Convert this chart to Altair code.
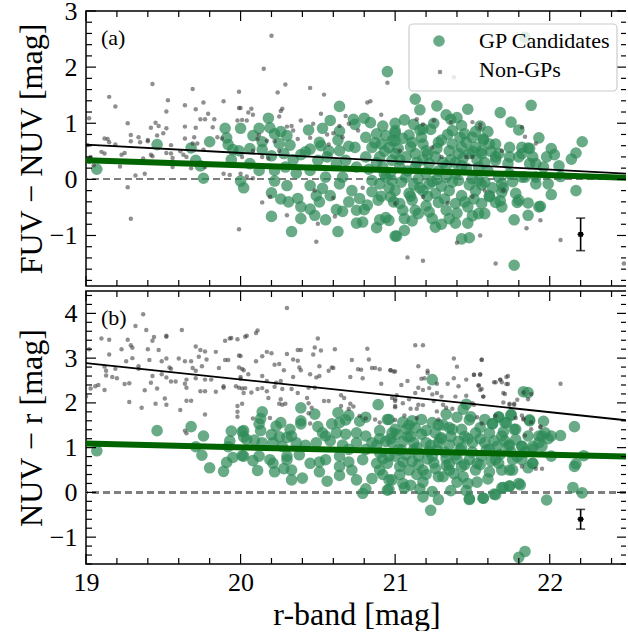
import math
import altair as alt
import pandas as pd

FONT = "Liberation Serif"
W, HA, HB = 541, 275, 273

# ---------------- data: panel (a) FUV - NUV ----------------
GP_A_R = [
    19.07, 19.46, 19.68, 19.80, 19.90, 19.91, 20.00, 19.92, 19.95, 19.94,
    19.71, 19.76, 20.00, 20.02, 19.99, 19.74, 20.95, 20.64, 20.18, 20.58,
    20.73, 20.80, 20.84, 20.74, 20.12, 20.19, 20.26, 20.30, 20.08, 20.44,
    20.53, 20.64, 20.63, 20.51, 20.52, 20.45, 20.39, 20.32, 20.25, 20.14,
    20.06, 20.20, 20.28, 20.70, 20.74, 20.81, 20.88, 20.94, 21.00, 20.85,
    20.91, 20.96, 21.00, 20.90, 20.81, 20.68, 20.62, 20.56, 20.50, 20.45,
    20.36, 20.29, 20.22, 20.12, 20.06, 20.22, 20.30, 20.45, 20.53, 20.55,
    20.64, 20.72, 20.70, 20.77, 20.85, 20.90, 20.94, 20.97, 20.89, 20.20,
    20.26, 20.31, 20.37, 20.39, 20.45, 20.49, 20.51, 20.48, 20.55, 20.39,
    20.20, 20.33, 20.63, 20.62, 20.66, 20.75, 20.80, 20.82, 20.75, 20.79,
    20.88, 20.90, 20.94, 21.00, 20.42, 20.34, 20.22, 20.14, 20.57, 20.64,
    20.75, 20.83, 20.92, 20.98, 20.98, 20.85, 20.66, 20.58, 21.13, 21.16,
    21.27, 21.47, 21.68, 21.88, 21.06, 21.36, 21.75, 21.80, 21.23, 21.16,
    21.09, 21.00, 21.37, 21.43, 21.45, 21.57, 21.65, 21.74, 21.93, 21.00,
    21.05, 21.11, 21.18, 21.28, 21.37, 21.43, 21.52, 21.61, 21.86, 21.82,
    21.96, 21.07, 21.13, 21.20, 21.26, 21.35, 21.41, 21.48, 21.56, 21.65,
    21.74, 21.03, 21.13, 21.22, 21.33, 21.43, 21.54, 20.98, 21.07, 21.15,
    21.24, 21.33, 21.41, 21.50, 21.58, 21.67, 21.76, 21.84, 21.91, 21.00,
    21.09, 21.18, 21.26, 21.35, 21.43, 21.52, 21.61, 21.69, 21.78, 21.03,
    21.11, 21.20, 21.28, 21.39, 21.47, 21.56, 21.65, 21.79, 21.86, 21.94,
    20.96, 21.06, 21.11, 21.15, 21.24, 21.35, 21.39, 21.47, 21.54, 21.58,
    21.77, 21.01, 21.06, 21.26, 21.43, 21.48, 21.77, 21.22, 21.91, 21.39,
    21.74, 22.21, 22.17, 22.14, 22.01, 22.03, 21.98, 22.06, 21.87, 21.89,
    21.87, 21.82, 21.67, 21.57, 21.50, 21.56, 21.82, 21.91, 21.99, 22.01,
    22.07, 22.17, 21.93, 21.80, 21.69, 21.86, 21.68, 21.61, 21.54, 21.69,
    21.65, 21.73, 21.80, 21.84, 20.93, 21.02, 21.10, 21.18, 21.30, 21.46,
    21.20, 21.28, 21.36, 21.44, 21.12, 21.30, 21.48, 21.05, 21.22, 21.40,
    21.33, 20.88, 20.96, 21.60, 21.70, 21.25, 21.12, 21.40, 21.55, 20.87,
    20.93, 20.97, 21.03, 21.08, 21.14, 21.17, 21.21, 21.27, 21.31, 21.34,
    21.39, 21.42, 21.46, 21.50, 21.53, 21.58, 21.62, 20.91, 20.99, 21.04,
    21.10, 21.16, 21.21, 21.27, 21.32, 21.37, 21.45, 21.51, 21.56, 21.63,
    21.13, 21.30, 21.50, 21.18, 21.33, 21.00, 20.92, 21.52, 21.60,
]
GP_A_FUV_NUV = [
    0.18, 0.62, 0.56, 0.67, 0.91, 0.74, 0.91, 0.62, 0.53, 0.35,
    0.34, 0.02, -0.03, -0.15, 0.51, 0.24, 1.92, 1.30, 1.09, 1.05,
    1.07, 1.09, 1.01, 0.98, 0.91, 0.92, 0.85, 0.78, 0.78, 0.88,
    0.91, 0.86, 0.70, 0.66, 0.60, 0.54, 0.44, 0.61, 0.64, 0.53,
    0.55, 0.42, 0.46, 0.59, 0.57, 0.75, 0.81, 0.78, 0.83, 0.57,
    0.63, 0.57, 0.46, 0.40, 0.40, 0.34, 0.28, 0.40, 0.34, 0.16,
    0.11, 0.22, 0.16, 0.16, 0.28, -0.03, -0.11, -0.11, -0.16, 0.04,
    -0.08, -0.20, -0.40, -0.34, -0.22, -0.08, 0.04, -0.31, -0.37, -0.24,
    -0.35, -0.40, -0.34, -0.49, -0.53, -0.29, -0.40, -0.64, -0.72, -0.70,
    -0.66, -0.93, -0.93, -0.54, -0.57, -0.55, -0.54, -0.46, -0.78, -0.76,
    -0.86, -0.72, -0.68, -1.01, 0.49, 0.35, 0.81, 0.67, 0.51, 0.51,
    0.22, 0.18, 0.22, 0.34, 0.69, -0.02, 0.04, -0.29, 1.43, 1.24,
    1.31, 1.25, 1.19, 1.32, 1.06, 1.07, 1.02, 0.88, 0.89, 0.88,
    0.79, 0.87, 0.87, 0.96, 0.81, 0.70, 0.63, 0.57, 0.74, 0.69,
    0.73, 0.66, 0.63, 0.66, 0.63, 0.57, 0.57, 0.63, 0.56, 0.46,
    0.22, 0.40, 0.46, 0.51, 0.40, 0.51, 0.46, 0.46, 0.46, 0.40,
    0.40, 0.22, 0.22, 0.28, 0.24, 0.24, 0.22, -0.02, 0.04, 0.01,
    -0.04, 0.04, -0.02, 0.01, -0.05, 0.04, -0.04, 0.04, -0.08, -0.20,
    -0.25, -0.20, -0.25, -0.20, -0.29, -0.20, -0.29, -0.23, -0.25, -0.43,
    -0.37, -0.47, -0.41, -0.43, -0.49, -0.43, -0.41, -0.41, -0.42, -0.48,
    -0.73, -0.70, -0.74, -0.61, -0.70, -0.70, -0.78, -0.78, -0.61, -0.61,
    -0.72, -1.01, -0.91, -0.85, -1.06, -1.04, -1.53, -0.08, 0.28, 0.10,
    0.10, 0.67, 0.47, 0.36, 0.55, 0.44, 0.40, 0.24, 0.55, 0.40,
    0.28, 0.57, 0.46, 0.72, 0.75, 0.51, 0.04, 0.04, -0.08, -0.27,
    0.05, -0.20, -0.49, -0.37, -0.49, -0.64, -0.38, -0.31, -0.02, -0.08,
    0.34, 0.28, 0.40, 2.53, 0.10, 0.55, 0.58, 0.35, 0.70, 0.66,
    0.12, 0.15, 0.35, 0.38, -0.10, -0.12, -0.10, -0.55, -0.58, -0.60,
    -0.55, 0.30, -0.15, 0.15, -0.15, 1.00, 0.98, 1.10, 0.95, 0.65,
    0.50, 0.12, 0.35, 0.15, 0.30, 0.75, 0.45, 0.55, 0.30, 0.80,
    0.30, 0.75, 0.20, 0.50, 0.35, 0.30, 0.50, -0.30, -0.40, -0.05,
    -0.30, -0.15, -0.30, 0.00, -0.35, -0.05, -0.40, -0.35, -0.10, -0.15,
    -0.55, -0.80, -0.65, 0.90, 1.15, 1.00, 0.95, 0.85, 0.85,
]
NON_A_R = [
    19.02, 19.15, 19.19, 19.43, 19.69, 19.99, 19.53, 19.64, 19.76, 19.89,
    19.71, 19.99, 19.52, 19.79, 19.74, 19.77, 19.83, 19.98, 19.27, 19.45,
    19.42, 19.47, 19.52, 19.64, 19.71, 19.82, 19.29, 19.34, 19.40, 19.46,
    19.50, 19.64, 19.70, 19.85, 19.88, 19.12, 19.14, 19.15, 19.19, 19.29,
    19.35, 19.40, 19.55, 19.69, 19.72, 19.76, 19.23, 19.25, 19.12, 19.10,
    19.42, 19.43, 19.52, 19.55, 19.61, 19.63, 19.65, 19.56, 19.68, 19.38,
    19.32, 19.27, 19.29, 19.99, 19.89, 19.93, 19.77, 19.05, 19.02, 19.03,
    19.14, 19.22, 19.37, 19.56, 20.20, 20.15, 20.29, 20.24, 20.45, 20.54,
    20.00, 20.07, 20.05, 20.08, 20.26, 20.27, 20.25, 20.39, 20.52, 20.47,
    20.30, 20.33, 20.34, 20.37, 20.45, 20.56, 20.60, 20.64, 20.68, 20.70,
    20.76, 20.82, 20.84, 20.91, 20.95, 20.01, 20.04, 20.12, 20.11, 20.17,
    20.22, 20.08, 20.14, 20.18, 20.25, 20.01, 20.00, 20.04, 20.08, 20.14,
    20.19, 20.30, 20.49, 20.50, 20.61, 20.48, 20.60, 20.66, 20.57, 20.79,
    21.38, 21.14, 21.25, 21.18, 21.36, 21.50, 21.55, 21.82, 21.84, 21.24,
    21.03, 21.30, 21.46, 21.50, 21.69, 21.00, 21.08, 21.18, 21.40, 21.55,
    21.65, 21.85, 21.94, 21.34, 21.58, 21.70, 21.18, 21.55, 21.91, 22.07,
    22.48, 21.50, 19.01,
]
NON_A_FUV_NUV = [
    1.09, 1.47, 1.30, 1.70, 1.61, 1.56, 1.41, 1.32, 1.37, 1.39,
    1.25, 1.27, 1.21, 1.17, 1.07, 1.07, 1.07, 1.05, 1.00, 1.01,
    0.92, 0.95, 0.91, 0.94, 0.92, 0.93, 0.79, 0.75, 0.70, 0.78,
    0.82, 0.73, 0.75, 0.75, 0.73, 0.73, 0.72, 0.66, 0.62, 0.68,
    0.66, 0.68, 0.61, 0.64, 0.64, 0.53, 0.44, 0.47, 0.46, 0.49,
    0.44, 0.41, 0.47, 0.46, 0.50, 0.44, 0.40, 0.22, 0.20, 0.10,
    0.07, -0.14, -0.70, -0.89, 0.10, 0.08, 0.22, 0.25, 0.31, 0.40,
    0.33, 0.23, 0.37, 0.38, 2.56, 1.97, 1.69, 1.55, 1.63, 1.51,
    1.27, 1.26, 1.19, 1.15, 1.22, 1.26, 1.12, 1.05, 1.17, 0.99,
    0.94, 0.95, 0.87, 0.72, 0.74, 0.80, 0.82, 0.95, 1.13, 0.99,
    0.87, 1.37, 1.39, 1.15, 1.72, 1.06, 1.05, 0.79, 0.72, 0.69,
    0.68, 0.51, 0.40, 0.37, 0.51, 0.40, 0.10, 0.05, 0.02, -0.41,
    -0.31, -0.64, -1.11, -0.79, -0.66, -0.20, -0.33, 0.75, 0.62, -0.15,
    1.82, 1.07, 1.05, 0.98, 1.02, 1.02, 0.98, 0.93, 0.76, 0.57,
    0.51, 0.40, 0.40, 0.40, 0.51, -0.43, -1.39, -1.45, -1.13, -1.00,
    -1.50, -0.87, -0.73, -0.42, -0.20, -0.20, -0.31, 0.92, 0.64, -1.08,
    -1.50, -0.31, 0.61,
]

# ---------------- data: panel (b) NUV - r ----------------
GP_B_R = [
    19.07, 19.46, 19.68, 19.76, 19.71, 19.75, 19.80, 19.89, 19.91, 19.95,
    20.01, 19.94, 19.93, 20.01, 20.02, 19.92, 20.14, 20.13, 20.39, 20.48,
    20.63, 20.70, 20.89, 20.12, 20.13, 20.26, 20.23, 20.39, 20.39, 20.50,
    20.59, 20.64, 20.68, 20.77, 20.81, 20.95, 20.02, 20.20, 20.32, 20.33,
    20.30, 20.25, 20.53, 20.55, 20.62, 20.68, 20.75, 20.81, 20.90, 20.98,
    20.04, 20.09, 20.14, 20.21, 20.27, 20.36, 20.42, 20.49, 20.58, 20.66,
    20.75, 20.85, 20.94, 20.02, 20.08, 20.12, 20.19, 20.21, 20.30, 20.30,
    20.38, 20.45, 20.51, 20.55, 20.64, 20.70, 20.79, 20.88, 20.96, 20.11,
    20.22, 20.28, 20.33, 20.33, 20.40, 20.51, 20.56, 20.64, 20.75, 20.85,
    20.81, 20.79, 20.95, 20.98, 20.64, 20.72, 20.90, 20.70, 20.81, 20.90,
    21.24, 21.83, 21.86, 21.46, 21.44, 21.33, 21.40, 21.49, 21.48, 21.58,
    21.67, 21.72, 21.75, 21.77, 21.87, 21.96, 20.96, 21.05, 21.11, 21.17,
    21.24, 21.28, 21.31, 21.63, 21.00, 21.07, 21.13, 21.20, 21.26, 21.37,
    21.43, 21.52, 21.61, 21.69, 21.78, 21.86, 21.93, 21.97, 20.98, 21.05,
    21.12, 21.20, 21.28, 21.35, 21.41, 21.50, 21.58, 21.66, 21.74, 21.82,
    21.89, 21.95, 21.00, 21.07, 21.15, 21.24, 21.33, 21.39, 21.48, 21.56,
    21.65, 21.76, 21.82, 21.89, 21.03, 21.09, 21.18, 21.26, 21.35, 21.43,
    21.52, 21.61, 21.69, 21.74, 20.96, 21.05, 21.10, 21.18, 21.28, 21.40,
    21.47, 21.53, 21.16, 21.18, 21.24, 21.28, 21.36, 21.46, 21.48, 21.57,
    21.65, 21.70, 21.74, 21.81, 21.98, 21.23, 21.80, 21.84, 20.96, 21.06,
    22.16, 22.07, 22.01, 21.99, 21.95, 21.93, 22.01, 22.22, 22.17, 22.16,
    22.15, 22.21, 21.80, 21.74, 21.69, 21.64, 21.57, 21.48, 21.89, 21.76,
    21.67, 21.61, 21.73, 21.82, 21.89, 21.75, 21.67, 21.63, 21.71, 21.78,
    21.87, 21.02, 21.12, 21.22, 21.32, 21.42, 21.10, 21.30, 21.45, 20.90,
    20.95, 21.05, 21.15, 21.25, 21.35, 21.45, 21.55, 21.20, 21.38, 20.88,
    20.92, 20.97, 21.01, 21.04, 21.08, 21.11, 21.14, 21.17, 21.21, 21.23,
    21.27, 21.29, 21.33, 21.36, 21.40, 21.43, 21.47, 21.50, 21.53, 21.55,
    21.59, 21.62, 21.64, 21.68, 21.71, 21.75, 21.79, 21.84, 21.86, 21.03,
    21.14, 21.31, 21.44, 21.60, 20.92, 21.09, 21.35, 21.55, 21.70,
]
GP_B_NUV_R = [
    0.93, 1.38, 1.47, 1.26, 1.02, 0.83, 0.55, 0.47, 0.67, 0.78,
    0.82, 1.37, 1.15, 1.36, 1.24, 1.02, 1.80, 1.65, 1.89, 1.75,
    1.78, 1.72, 1.96, 1.53, 1.38, 1.56, 1.48, 1.60, 1.53, 1.47,
    1.53, 1.56, 1.62, 1.59, 1.68, 1.63, 1.38, 1.29, 1.41, 1.26,
    1.23, 1.24, 1.33, 1.26, 1.33, 1.30, 1.33, 1.26, 1.38, 1.33,
    1.18, 1.17, 1.11, 1.11, 1.03, 1.11, 1.05, 1.11, 1.15, 1.06,
    1.11, 1.11, 1.14, 0.81, 0.71, 0.81, 0.73, 0.65, 0.81, 0.73,
    0.84, 0.65, 0.68, 0.73, 0.81, 0.68, 0.73, 0.65, 0.81, 0.49,
    0.46, 0.53, 0.50, 0.28, 0.32, 0.46, 0.25, 0.38, 0.28, 0.31,
    0.08, -0.02, 0.05, 0.28, 0.58, 0.50, 0.50, 0.96, 0.96, 0.88,
    2.52, 2.25, 2.23, 1.97, 1.86, 1.75, 1.68, 1.69, 1.62, 1.63,
    1.68, 1.56, 1.74, 1.41, 1.62, 1.59, 1.63, 1.57, 1.60, 1.63,
    1.56, 1.51, 1.51, 1.54, 1.41, 1.41, 1.44, 1.38, 1.33, 1.41,
    1.41, 1.33, 1.33, 1.26, 1.18, 1.26, 1.26, 1.33, 1.11, 1.14,
    1.11, 1.11, 1.11, 1.06, 1.14, 1.11, 1.11, 1.03, 1.06, 1.03,
    1.03, 1.03, 0.81, 0.84, 0.81, 0.81, 0.76, 0.84, 0.73, 0.81,
    0.73, 0.73, 0.73, 0.65, 0.58, 0.50, 0.50, 0.53, 0.50, 0.58,
    0.50, 0.46, 0.50, 0.50, 0.28, 0.20, 0.16, 0.23, 0.35, 0.23,
    0.20, 0.23, 0.08, -0.10, 0.02, -0.16, 0.04, 0.04, -0.16, -0.13,
    -0.05, 0.11, 0.14, 0.17, -0.17, -0.40, -1.45, -1.32, 0.07, 0.10,
    1.47, 1.27, 1.26, 1.20, 1.26, 1.11, 0.81, 0.82, 0.64, 0.58,
    0.11, -0.01, 0.20, 0.14, 0.10, -0.04, -0.13, -0.14, 0.65, 0.50,
    0.65, 0.96, 1.03, 1.03, 0.96, 1.72, 1.69, 1.53, 1.56, 1.41,
    1.60, 0.95, 0.95, 0.92, 0.90, 0.95, 1.25, 1.22, 1.25, 1.20,
    0.65, 0.68, 0.62, 0.66, 0.64, 0.62, 0.62, 0.40, 0.42, 1.05,
    0.75, 1.20, 1.30, 0.95, 1.25, 0.70, 1.00, 1.30, 0.75, 1.05,
    0.95, 1.20, 0.60, 1.25, 0.75, 1.00, 1.20, 0.90, 0.65, 1.20,
    0.95, 0.70, 1.15, 0.85, 1.15, 0.90, 0.80, 0.90, 0.55, 0.40,
    0.40, 0.35, 0.35, 0.30, 0.40, 1.50, 1.45, 1.45, 1.35,
]
NON_B_R = [
    19.37, 19.32, 19.39, 19.62, 19.10, 19.15, 19.27, 19.29, 19.30, 19.23,
    19.40, 19.43, 19.44, 19.47, 19.52, 19.52, 19.71, 19.74, 19.77, 19.84,
    19.90, 19.93, 19.94, 19.98, 20.03, 19.02, 19.15, 19.30, 19.41, 19.49,
    19.52, 19.60, 19.64, 19.68, 19.73, 19.78, 19.90, 19.92, 19.99, 19.26,
    19.34, 19.12, 19.13, 19.19, 19.34, 19.54, 19.55, 19.69, 19.71, 19.75,
    19.86, 20.01, 19.13, 19.17, 19.20, 19.43, 19.52, 19.49, 19.55, 19.58,
    19.65, 19.71, 19.77, 19.81, 20.00, 19.03, 19.06, 19.08, 19.12, 19.25,
    19.28, 19.42, 19.46, 19.38, 19.64, 19.65, 19.74, 19.77, 19.84, 19.89,
    19.89, 19.97, 20.01, 19.00, 19.51, 19.68, 19.28, 19.45, 19.52, 19.65,
    19.61, 19.36, 19.77, 19.98, 19.98, 19.98, 19.64, 19.65, 20.30, 20.04,
    20.10, 20.11, 20.50, 20.37, 20.39, 20.48, 20.52, 20.61, 20.82, 20.17,
    20.20, 20.30, 20.47, 20.83, 20.00, 20.14, 20.10, 20.22, 20.25, 20.28,
    20.34, 20.37, 20.38, 20.39, 20.51, 20.59, 20.60, 20.57, 20.72, 20.76,
    20.78, 20.85, 20.87, 20.90, 20.97, 21.00, 19.99, 20.02, 20.00, 20.05,
    20.14, 20.17, 20.23, 20.26, 20.34, 20.45, 20.49, 20.51, 20.71, 20.79,
    20.91, 19.99, 20.03, 20.02, 20.07, 20.11, 20.14, 20.17, 20.22, 20.27,
    20.33, 20.37, 20.44, 20.48, 20.18, 20.26, 20.43, 20.54, 20.57, 20.65,
    20.67, 20.01, 20.25, 20.29, 20.27, 20.44, 20.46, 20.65, 20.71, 20.73,
    20.70, 20.08, 20.19, 20.44, 20.45, 20.77, 20.81, 20.87, 20.90, 21.00,
    21.13, 21.18, 21.38, 21.56, 21.40, 21.15, 20.97, 20.99, 21.21, 21.21,
    21.51, 21.55, 21.72, 21.68, 21.17, 21.19, 21.08, 21.38, 21.46, 21.64,
    21.72, 21.04, 21.15, 21.18, 21.22, 21.27, 21.34, 21.41, 21.54, 21.56,
    21.01, 21.13, 21.24, 21.27, 21.30, 21.39, 21.46, 21.57, 21.70, 20.98,
    21.00, 21.09, 21.05, 21.15, 21.18, 21.25, 21.31, 21.33, 21.50, 21.51,
    21.70, 21.74, 21.77, 21.00, 21.14, 21.10, 21.27, 21.37, 21.06, 21.14,
    21.28, 21.82, 21.83, 21.88, 21.94, 21.65, 21.00, 21.95, 21.82, 21.00,
    21.56, 21.51, 21.55, 21.54, 21.55, 21.57, 21.65, 21.68, 21.69, 21.73,
    21.73, 21.71, 21.79, 21.74, 21.77, 21.83, 21.86, 21.88, 22.07, 21.53,
    21.56, 21.78, 21.83, 21.88, 21.84, 21.94, 21.91,
]
NON_B_NUV_R = [
    3.98, 3.72, 3.63, 3.63, 3.44, 3.41, 3.41, 3.29, 3.23, 3.20,
    3.20, 3.39, 3.47, 3.18, 3.50, 3.48, 3.26, 3.18, 3.15, 3.14,
    3.39, 3.44, 3.45, 3.42, 3.48, 3.20, 3.08, 3.00, 2.96, 2.93,
    2.99, 2.99, 2.93, 2.93, 3.03, 2.97, 2.96, 2.96, 3.06, 2.93,
    2.82, 2.81, 2.72, 2.76, 2.76, 2.79, 2.76, 2.78, 2.72, 2.82,
    2.78, 2.76, 2.61, 2.58, 2.55, 2.60, 2.57, 2.64, 2.48, 2.48,
    2.52, 2.55, 2.52, 2.52, 2.54, 2.32, 2.37, 2.40, 2.29, 2.42,
    2.44, 2.45, 2.32, 2.28, 2.43, 2.34, 2.26, 2.26, 2.25, 2.37,
    2.34, 2.37, 2.32, 2.14, 2.10, 2.05, 2.02, 1.98, 1.96, 2.05,
    1.84, 1.89, 1.74, 1.93, 1.80, 1.69, 1.38, 1.32, 4.12, 3.50,
    3.56, 3.62, 3.44, 3.18, 3.18, 3.24, 3.17, 3.20, 3.21, 3.14,
    3.11, 3.09, 3.08, 2.97, 3.05, 3.04, 2.93, 2.85, 2.87, 2.73,
    2.97, 2.94, 2.79, 2.73, 2.82, 2.79, 2.78, 2.72, 2.96, 2.75,
    2.74, 2.78, 2.78, 2.75, 2.73, 2.70, 2.79, 2.73, 2.58, 2.64,
    2.60, 2.49, 2.45, 2.49, 2.58, 2.64, 2.57, 2.60, 2.58, 2.55,
    2.43, 2.34, 2.33, 2.22, 2.23, 2.31, 2.33, 2.26, 2.36, 2.31,
    2.31, 2.22, 2.34, 2.34, 2.11, 2.08, 2.11, 2.04, 2.04, 2.17,
    2.11, 1.98, 1.98, 1.98, 1.96, 1.99, 1.89, 1.93, 1.98, 1.92,
    1.87, 1.65, 1.66, 1.77, 1.54, 1.71, 1.65, 1.63, 1.56, 1.93,
    3.29, 3.29, 2.99, 2.96, 2.81, 2.82, 2.73, 2.70, 2.72, 2.67,
    2.63, 2.63, 2.58, 2.52, 2.54, 2.55, 2.49, 2.55, 2.52, 2.46,
    2.42, 2.40, 2.34, 2.29, 2.33, 2.43, 2.43, 2.37, 2.39, 2.31,
    2.17, 2.22, 2.19, 2.22, 2.14, 2.14, 2.16, 2.14, 2.22, 2.11,
    2.04, 2.08, 1.99, 1.96, 1.95, 2.04, 1.96, 1.89, 1.99, 1.96,
    2.01, 1.98, 1.96, 1.90, 1.87, 1.87, 1.81, 1.87, 1.72, 1.66,
    1.63, 1.72, 1.65, 1.57, 1.47, 1.71, 1.62, 0.53, 0.58, 2.08,
    2.97, 2.63, 2.64, 2.39, 2.29, 2.14, 2.46, 2.52, 2.46, 2.60,
    2.42, 2.20, 2.07, 1.96, 1.98, 2.23, 2.08, 2.20, 2.43, 1.68,
    1.54, 1.66, 1.63, 1.41, 1.27, 1.45, 0.53,
]

# linear fits (end points) and typical error bars
FIT_R = [19.0, 22.5]
FIT_A_ALL = [0.62, 0.10]
FIT_A_GP = [0.34, 0.03]
FIT_B_ALL = [2.89, 1.61]
FIT_B_GP = [1.09, 0.80]
ERR_R, ERR_RERR = 22.2, 0.02
ERR_A = [-0.98, 0.29]
ERR_B = [-0.60, 0.22]

X_DOMAIN = [19, 22.5]
Y_DOMAIN_A = [-1.9, 3]
Y_DOMAIN_B = [-1.6, 4.5]
X_MAJOR = [19, 20, 21, 22]
Y_MAJOR_A = [-1, 0, 1, 2, 3]
Y_MAJOR_B = [-1, 0, 1, 2, 3, 4]

GREEN = "#2E8B57"
GRAY = "#333333"


def minor(lo, hi):
    k0 = math.ceil(lo / 0.2 - 1e-9)
    k1 = math.floor(hi / 0.2 + 1e-9)
    out = []
    for k in range(k0, k1 + 1):
        if k % 5 != 0:
            out.append(round(k * 0.2, 1))
    return out


xs = alt.Scale(domain=X_DOMAIN, nice=False, zero=False)
one = pd.DataFrame({"k": [0]})


def panel(gp_x, gp_y, non_x, non_y, fit_all, fit_gp, err, ydom, ymaj, h,
          ytitle, tag, xaxis, legend):
    ys = alt.Scale(domain=ydom, nice=False, zero=False)
    yax = alt.Axis(values=ymaj, title=ytitle, titleFontSize=32, titleFontWeight="normal",
                   titleX=-45, titleY=h / 2, titleBaseline="alphabetic", titleAngle=270,
                   labelFontSize=26, labelPadding=9, ticks=False, tickSize=0,
                   domain=False, grid=False, labelFlush=False, labelOverlap=False,
                   labelColor="black", titleColor="black")

    def X(f):
        return alt.X(f, type="quantitative", scale=xs, axis=xaxis)

    def Y(f):
        return alt.Y(f, type="quantitative", scale=ys, axis=yax)

    gp = pd.DataFrame({"r": gp_x, "c": gp_y})
    non = pd.DataFrame({"r": non_x, "c": non_y})
    f_all = pd.DataFrame({"r": FIT_R, "c": fit_all})
    f_gp = pd.DataFrame({"r": FIT_R, "c": fit_gp})
    e = pd.DataFrame({"r": [ERR_R], "c": [err[0]], "lo": [err[0] - err[1]],
                      "hi": [err[0] + err[1]], "rlo": [ERR_R - ERR_RERR],
                      "rhi": [ERR_R + ERR_RERR]})

    layers = [
        alt.Chart(gp).mark_rule(color="#7f7f7f", strokeDash=[7, 4], strokeWidth=1.5)
        .encode(y=alt.Y(datum=0, scale=ys, axis=yax)),
        alt.Chart(gp).mark_circle(size=135, color=GREEN, opacity=0.72, clip=True)
        .encode(x=X("r"), y=Y("c")),
        alt.Chart(non).mark_circle(size=20, color=GRAY, opacity=0.55, clip=True)
        .encode(x=X("r"), y=Y("c")),
        alt.Chart(f_all).mark_line(color="black", strokeWidth=1.8)
        .encode(x=X("r"), y=Y("c")),
        alt.Chart(f_gp).mark_line(color="#006400", strokeWidth=6)
        .encode(x=X("r"), y=Y("c")),
        alt.Chart(e).mark_rule(color="black", strokeWidth=1.6)
        .encode(x=X("r"), y=Y("lo"), y2="hi"),
        alt.Chart(e).mark_rule(color="black", strokeWidth=1.6)
        .encode(x=X("rlo"), x2="rhi", y=Y("c")),
        alt.Chart(e).mark_tick(orient="horizontal", size=9, thickness=1.6, color="black")
        .encode(x=X("r"), y=Y("lo")),
        alt.Chart(e).mark_tick(orient="horizontal", size=9, thickness=1.6, color="black")
        .encode(x=X("r"), y=Y("hi")),
        alt.Chart(e).mark_square(size=22, color="black", opacity=1)
        .encode(x=X("r"), y=Y("c")),
    ]

    # inward tick marks on all four sides
    xmaj = pd.DataFrame({"v": X_MAJOR})
    xmin = pd.DataFrame({"v": minor(X_DOMAIN[0], X_DOMAIN[1])})
    ymj = pd.DataFrame({"v": ymaj})
    ymn = pd.DataFrame({"v": minor(ydom[0], ydom[1])})
    for df, L in ((xmaj, 10), (xmin, 6)):
        layers.append(alt.Chart(df).mark_rule(color="black", strokeWidth=1.2)
                      .encode(x=X("v"), y=alt.value(h), y2=alt.value(h - L)))
        layers.append(alt.Chart(df).mark_rule(color="black", strokeWidth=1.2)
                      .encode(x=X("v"), y=alt.value(0), y2=alt.value(L)))
    for df, L in ((ymj, 10), (ymn, 6)):
        layers.append(alt.Chart(df).mark_rule(color="black", strokeWidth=1.2)
                      .encode(y=Y("v"), x=alt.value(0), x2=alt.value(L)))
        layers.append(alt.Chart(df).mark_rule(color="black", strokeWidth=1.2)
                      .encode(y=Y("v"), x=alt.value(W - L), x2=alt.value(W)))

    if legend:
        layers += [
            alt.Chart(one).mark_rect(fill="white", fillOpacity=0.8, stroke="#cccccc",
                                     strokeWidth=1.2, cornerRadius=4)
            .encode(x=alt.value(323), x2=alt.value(531), y=alt.value(13), y2=alt.value(80)),
            alt.Chart(one).mark_circle(size=135, color=GREEN, opacity=0.72)
            .encode(x=alt.value(353), y=alt.value(30)),
            alt.Chart(one).mark_circle(size=20, color=GRAY, opacity=0.55)
            .encode(x=alt.value(354), y=alt.value(61)),
            alt.Chart(one).mark_text(align="left", baseline="middle", fontSize=22, color="black")
            .encode(x=alt.value(393), y=alt.value(30), text=alt.value("GP Candidates")),
            alt.Chart(one).mark_text(align="left", baseline="middle", fontSize=22, color="black")
            .encode(x=alt.value(393), y=alt.value(59), text=alt.value("Non-GPs")),
        ]
    layers.append(alt.Chart(one).mark_text(align="left", baseline="middle", fontSize=22,
                                           color="black")
                  .encode(x=alt.value(15), y=alt.value(27), text=alt.value(tag)))
    return alt.layer(*layers).properties(width=W, height=h)


xaxis_b = alt.Axis(values=X_MAJOR, format="d", title="r-band [mag]", titleFontSize=32,
                   titleFontWeight="normal", titleY=60, titleBaseline="alphabetic",
                   labelFontSize=26, labelPadding=5, ticks=False, tickSize=0,
                   domain=False, grid=False, labelFlush=False, labelColor="black",
                   titleColor="black")

pa = panel(GP_A_R, GP_A_FUV_NUV, NON_A_R, NON_A_FUV_NUV, FIT_A_ALL, FIT_A_GP, ERR_A,
           Y_DOMAIN_A, Y_MAJOR_A, HA, "FUV \u2212 NUV [mag]", "(a)", None, True)
pb = panel(GP_B_R, GP_B_NUV_R, NON_B_R, NON_B_NUV_R, FIT_B_ALL, FIT_B_GP, ERR_B,
           Y_DOMAIN_B, Y_MAJOR_B, HB, "NUV \u2212 r [mag]", "(b)", xaxis_b, False)

chart = (
    alt.vconcat(pa, pb, spacing=1)
    .configure(font=FONT, padding={"left": 14, "top": -3, "right": -14, "bottom": 0},
               background="white")
    .configure_view(stroke="black", strokeWidth=1.5)
)

chart.save("out.html", embed_options={"renderer": "svg", "actions": False})
